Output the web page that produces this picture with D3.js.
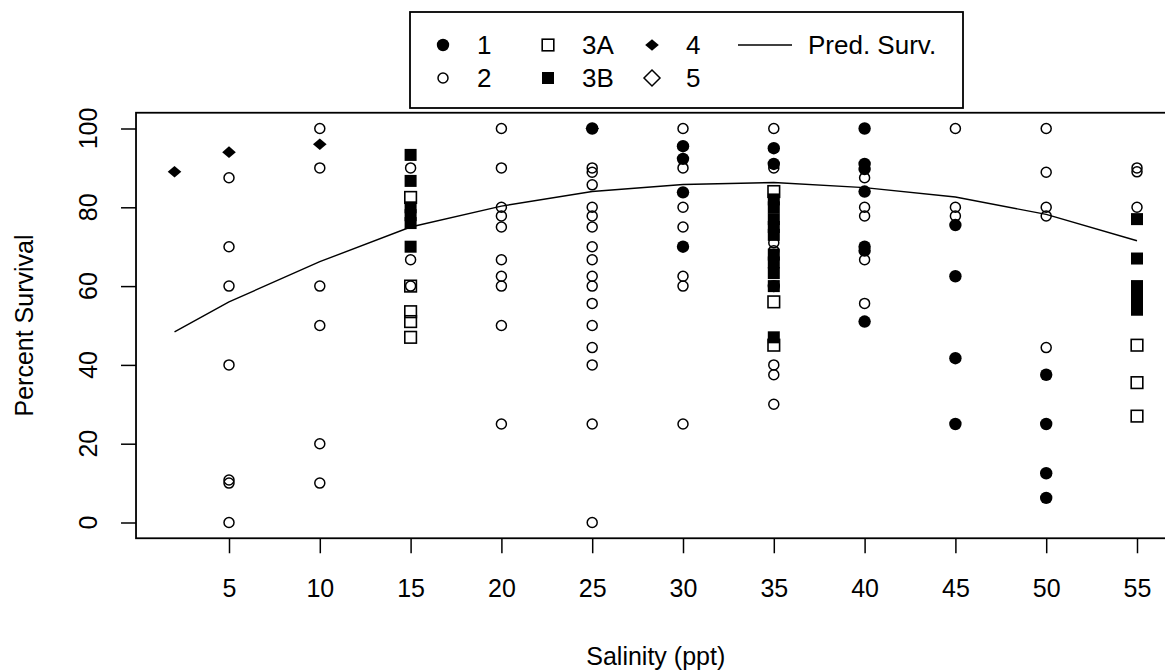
<!DOCTYPE html>
<html>
<head>
<meta charset="utf-8">
<script src="https://cdn.jsdelivr.net/npm/d3@7"></script>
<style>
  body { margin: 0; background: #fff; }
  svg { font-family: "Liberation Sans", Arial, sans-serif; }
</style>
</head>
<body>
<svg id="chart" width="1165" height="670"></svg>
<script>
// salinity (ppt) / percent survival, one list per group
const group1 = [[25,100],[30,95.5],[30,92.3],[30,83.8],[30,70],[35,95],[35,91],[35,60],
  [40,100],[40,91],[40,89.7],[40,84],[40,70],[40,69],[40,51],
  [45,75.5],[45,62.5],[45,41.7],[45,25],[50,37.5],[50,25],[50,12.5],[50,6.25]]
const group2 = [[5,87.5],[5,70],[5,60],[5,40],[5,10.8],[5,10],[5,0],
  [10,100],[10,90],[10,60],[10,50],[10,20],[10,10],
  [15,90],[15,66.7],[15,60],
  [20,100],[20,90],[20,80],[20,77.8],[20,75],[20,66.7],[20,62.5],[20,60],[20,50],[20,25],
  [25,90],[25,88.9],[25,85.7],[25,80],[25,77.8],[25,75],[25,70],[25,66.7],[25,62.5],[25,60],
  [25,55.6],[25,50],[25,44.4],[25,40],[25,25],[25,0],
  [30,100],[30,90],[30,80],[30,75],[30,62.5],[30,60],[30,25],
  [35,100],[35,90],[35,71],[35,69],[35,40],[35,37.5],[35,30],
  [40,87.5],[40,80],[40,77.8],[40,66.7],[40,55.6],
  [45,100],[45,80],[45,77.8],
  [50,100],[50,88.9],[50,80],[50,77.8],[50,44.4],
  [55,90],[55,89],[55,80]]
const group3A = [[15,82.5],[15,60],[15,53.5],[15,51],[15,47],
  [35,84],[35,56],[35,45],[55,45],[55,35.5],[55,27]]
const group3B = [[15,93.3],[15,86.7],[15,80],[15,78],[15,76],[15,70],
  [35,82],[35,80],[35,77],[35,75],[35,73],[35,68],[35,66],[35,63.3],[35,60],[35,47],
  [55,77],[55,67],[55,60],[55,59],[55,57.5],[55,55.5],[55,54]]
const group4 = [[2,89],[5,94],[10,96],[25,100]]
const group5 = []

// predicted survival curve
const predSalinity = [2, 5, 10, 15, 20, 25, 30, 35, 40, 45, 50, 55]
const predSurvival = [48.4, 56, 66.2, 75, 80.3, 84, 85.8, 86.3, 85, 82.6, 78.2, 71.5]

const xTicks = [5, 10, 15, 20, 25, 30, 35, 40, 45, 50, 55]
const yTicks = [0, 20, 40, 60, 80, 100]

const svg = d3.select('#chart')

const x = d3.scaleLinear().domain([0, 55]).range([138.2, 1137])
const y = d3.scaleLinear().domain([0, 100]).range([522.5, 128.5])

// plot box (R style 4% extension)
const bx0 = x(-0.12), bx1 = x(57.12), by0 = y(104), by1 = y(-4)

svg.append("g")
    .attr("transform", `translate(0,${by1})`)
    .call(d3.axisBottom(x).tickValues(xTicks).tickSize(15).tickSizeOuter(0).tickPadding(26))
    .call(g => g.select(".domain").remove())
    .call(g => g.selectAll("line").attr("stroke", "#000").attr("stroke-width", 1.5))
    .call(g => g.selectAll("text").attr("font-size", 25).attr("fill", "#000")
      .attr("font-family", "Liberation Sans, Arial, sans-serif"))

svg.append("g")
    .attr("transform", `translate(${bx0},0)`)
    .call(d3.axisLeft(y).tickValues(yTicks).tickSize(15).tickSizeOuter(0))
    .call(g => g.select(".domain").remove())
    .call(g => g.selectAll("line").attr("stroke", "#000").attr("stroke-width", 1.5))
    .call(g => g.selectAll("text").remove())

svg.append("g").selectAll("text")
  .data(yTicks)
  .join("text")
    .attr("transform", d => `translate(97,${y(d)}) rotate(-90)`)
    .attr("text-anchor", "middle")
    .attr("font-size", 25)
    .text(d => d)

svg.append("rect")
    .attr("x", bx0).attr("y", by0)
    .attr("width", bx1 - bx0).attr("height", by1 - by0)
    .attr("fill", "none").attr("stroke", "#000").attr("stroke-width", 1.8)

// axis titles
svg.append("text")
    .attr("x", (bx0 + bx1) / 2).attr("y", 665)
    .attr("text-anchor", "middle").attr("font-size", 25)
    .text("Salinity (ppt)")
svg.append("text")
    .attr("transform", `translate(33,${(by0 + by1) / 2}) rotate(-90)`)
    .attr("text-anchor", "middle").attr("font-size", 25)
    .text("Percent Survival")

// marker shapes
const diamondFill = (r) => `M0,${-r*0.85}L${r},0L0,${r*0.85}L${-r},0Z`
const diamondOpen = (r) => `M0,${-r}L${r},0L0,${r}L${-r},0Z`

function drawPoints(g, cx, cy, type) {
  if (type === "open") {
    g.append("circle").attr("cx", cx).attr("cy", cy).attr("r", 5)
      .attr("fill", "none").attr("stroke", "#000").attr("stroke-width", 1.5)
  } else if (type === "filled") {
    g.append("circle").attr("cx", cx).attr("cy", cy).attr("r", 6.2).attr("fill", "#000")
  } else if (type === "opensq") {
    g.append("rect").attr("x", cx - 5.8).attr("y", cy - 5.8).attr("width", 11.6).attr("height", 11.6)
      .attr("fill", "none").attr("stroke", "#000").attr("stroke-width", 1.6)
  } else if (type === "filledsq") {
    g.append("rect").attr("x", cx - 6).attr("y", cy - 6).attr("width", 12).attr("height", 12)
      .attr("fill", "#000")
  } else if (type === "diamond") {
    g.append("path").attr("transform", `translate(${cx},${cy})`).attr("d", diamondFill(6.8))
      .attr("fill", "#000")
  } else if (type === "opendiamond") {
    g.append("path").attr("transform", `translate(${cx},${cy})`).attr("d", diamondOpen(8))
      .attr("fill", "none").attr("stroke", "#000").attr("stroke-width", 1.5)
  }
}

const series = [
  {data: group2, type: "open"},
  {data: group3A, type: "opensq"},
  {data: group3B, type: "filledsq"},
  {data: group1, type: "filled"},
  {data: group4, type: "diamond"},
  {data: group5, type: "opendiamond"}
]

const pts = svg.append("g")
series.forEach(s => {
  s.data.forEach(d => drawPoints(pts, x(d[0]), y(d[1]), s.type))
})

// predicted line
const line = d3.line().x(d => x(d[0])).y(d => y(d[1]))
svg.append("path")
    .datum(predSalinity.map((s, i) => [s, predSurvival[i]]))
    .attr("d", line)
    .attr("fill", "none").attr("stroke", "#000").attr("stroke-width", 1.4)

// legend
const legend = svg.append("g")
legend.append("rect")
    .attr("x", 410).attr("y", 12).attr("width", 553).attr("height", 96)
    .attr("fill", "#fff").attr("stroke", "#000").attr("stroke-width", 1.8)

const legendItems = [
  {label: "1", type: "filled", col: 0, row: 0},
  {label: "2", type: "open", col: 0, row: 1},
  {label: "3A", type: "opensq", col: 1, row: 0},
  {label: "3B", type: "filledsq", col: 1, row: 1},
  {label: "4", type: "diamond", col: 2, row: 0},
  {label: "5", type: "opendiamond", col: 2, row: 1}
]
const colX = [443, 548, 652]
const rowY = [45, 78]
legendItems.forEach(it => {
  drawPoints(legend, colX[it.col], rowY[it.row], it.type)
  legend.append("text")
      .attr("x", colX[it.col] + 34).attr("y", rowY[it.row]).attr("dy", "0.36em")
      .attr("font-size", 26)
      .text(it.label)
})
legend.append("line")
    .attr("x1", 738).attr("x2", 792).attr("y1", 45).attr("y2", 45)
    .attr("stroke", "#000").attr("stroke-width", 1.4)
legend.append("text")
    .attr("x", 808).attr("y", 45).attr("dy", "0.36em")
    .attr("font-size", 26)
    .text("Pred. Surv.")
</script>
</body>
</html>
